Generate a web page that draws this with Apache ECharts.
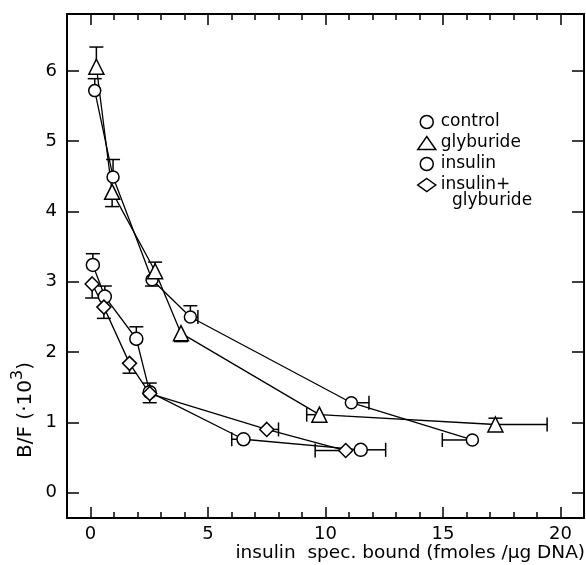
<!DOCTYPE html>
<html>
<head>
<meta charset="utf-8">
<script src="https://cdn.jsdelivr.net/npm/echarts@6/dist/echarts.min.js"></script>
<style>
html, body { margin: 0; padding: 0; background: #fff; }
#chart { width: 586px; height: 565px; }
</style>
</head>
<body>
<div id="chart"></div>
<script>
// x: insulin spec. bound (fmoles/ug DNA), y: B/F (x10^3)
var controlX = [0.18, 0.96, 2.62, 4.25, 11.1, 16.25];
var controlY = [5.72, 4.49, 3.03, 2.50, 1.28, 0.75];
var glybX = [0.25, 0.92, 2.75, 3.85, 9.74, 17.23];
var glybY = [6.06, 4.28, 3.15, 2.27, 1.11, 0.97];
var insulinX = [0.10, 0.61, 1.95, 2.52, 6.51, 11.5];
var insulinY = [3.24, 2.79, 2.19, 1.43, 0.76, 0.61];
var bothX = [0.07, 0.57, 1.66, 2.52, 7.5, 10.86];
var bothY = [2.97, 2.64, 1.84, 1.41, 0.90, 0.60];

// error bars, only the side drawn in the figure: [down, up, left, right]
var controlErr = [[0, 0.17, 0, 0], [0, 0.25, 0, 0], [0.09, 0, 0, 0], [0, 0.16, 0, 0.32], [0, 0, 0, 0.75], [0, 0, 1.28, 0]];
var glybErr = [[0, 0.28, 0, 0], [0.21, 0, 0, 0], [0, 0.13, 0, 0], [0.12, 0, 0, 0], [0, 0, 0.54, 0], [0, 0.09, 0, 2.2]];
var insulinErr = [[0, 0.16, 0, 0], [0, 0.15, 0, 0], [0, 0.17, 0, 0], [0, 0.13, 0, 0], [0, 0, 0.5, 0], [0, 0, 0, 1.06]];
var bothErr = [[0.2, 0, 0, 0], [0.16, 0, 0, 0], [0.14, 0, 0, 0], [0.13, 0, 0, 0], [0, 0, 0, 0.5], [0, 0, 1.3, 0]];

var xMajor = [0, 5, 10, 15, 20];
var xMinor = [1, 2, 3, 4, 6, 7, 8, 9, 11, 12, 13, 14, 16, 17, 18, 19];
var yTicks = [0, 1, 2, 3, 4, 5, 6];

var font = 'DejaVu Sans';

function pts(xs, ys) {
  return xs.map(function (x, i) { return [x, ys[i]]; });
}
function errPts(xs, ys, err) {
  return xs.map(function (x, i) { return [x, ys[i]].concat(err[i]); });
}

function errorBars(params, api) {
  var x = api.value(0), y = api.value(1);
  var dn = api.value(2), up = api.value(3), lf = api.value(4), rt = api.value(5);
  var c = api.coord([x, y]);
  var cap = 7;
  var st = { stroke: '#000', lineWidth: 1.5 };
  var kids = [];
  function bar(p, vertical) {
    kids.push({ type: 'line', shape: { x1: c[0], y1: c[1], x2: p[0], y2: p[1] }, style: st });
    if (vertical) {
      kids.push({ type: 'line', shape: { x1: p[0] - cap, y1: p[1], x2: p[0] + cap, y2: p[1] }, style: st });
    } else {
      kids.push({ type: 'line', shape: { x1: p[0], y1: p[1] - cap, x2: p[0], y2: p[1] + cap }, style: st });
    }
  }
  if (up > 0) bar(api.coord([x, y + up]), true);
  if (dn > 0) bar(api.coord([x, y - dn]), true);
  if (lf > 0) bar(api.coord([x - lf, y]), false);
  if (rt > 0) bar(api.coord([x + rt, y]), false);
  return { type: 'group', children: kids };
}

var markerStyle = { color: '#fff', borderColor: '#000', borderWidth: 1.5 };

function lineSeries(name, data, symbol, size) {
  return {
    name: name, type: 'line', data: data, z: 3,
    symbol: symbol, symbolSize: size,
    itemStyle: markerStyle,
    lineStyle: { color: '#000', width: 1.3 },
    emphasis: { disabled: true }
  };
}
function errSeries(data) {
  return {
    type: 'custom', renderItem: errorBars, data: data, z: 2,
    encode: { x: 0, y: 1 }, silent: true
  };
}

function xAx(pos, ticks, len, showLine, showLabel) {
  return {
    type: 'value', position: pos, min: -1, max: 21,
    axisLine: { show: showLine, onZero: false, lineStyle: { color: '#000', width: 2 } },
    axisTick: { inside: true, length: len, customValues: ticks, lineStyle: { color: '#000', width: 1.5 } },
    axisLabel: { show: showLabel, customValues: xMajor, margin: 7, color: '#000', fontFamily: font, fontSize: 18 },
    splitLine: { show: false }
  };
}
function yAx(pos, showLabel) {
  return {
    type: 'value', position: pos, min: -0.36, max: 6.81,
    axisLine: { show: true, onZero: false, lineStyle: { color: '#000', width: 2 } },
    axisTick: { inside: true, length: 12, customValues: yTicks, lineStyle: { color: '#000', width: 1.5 } },
    axisLabel: { show: showLabel, customValues: yTicks, margin: 10, color: '#000', fontFamily: font, fontSize: 18 },
    splitLine: { show: false }
  };
}

var chart = echarts.init(document.getElementById('chart'));
chart.setOption({
  animation: false,
  backgroundColor: '#fff',
  grid: { left: 67, right: 2, top: 14, bottom: 47 },
  xAxis: [
    xAx('bottom', xMinor, 6, true, true),
    xAx('bottom', xMajor, 11, false, false),
    xAx('top', xMinor, 6, true, false),
    xAx('top', xMajor, 11, false, false)
  ],
  yAxis: [yAx('left', true), yAx('right', false)],
  legend: {
    orient: 'vertical', left: 412, top: 107,
    itemWidth: 18, itemHeight: 13, itemGap: 1,
    textStyle: { fontFamily: font, fontSize: 17, lineHeight: 20, color: '#000' },
    formatter: function (n) { return n === 'insulin+ glyburide' ? 'insulin+' : n; },
    data: [
      { name: 'control', icon: 'circle', itemStyle: markerStyle },
      { name: 'glyburide', icon: 'triangle', itemStyle: markerStyle },
      { name: 'insulin', icon: 'circle', itemStyle: markerStyle },
      { name: 'insulin+ glyburide', icon: 'diamond', itemStyle: markerStyle }
    ]
  },
  graphic: [
    { type: 'text', x: 23, y: 410, rotation: Math.PI / 2,
      style: {
        text: '{a|B/F (·10}{s|3}{a|)}', fill: '#000', align: 'center', verticalAlign: 'middle',
        rich: {
          a: { fontFamily: font, fontSize: 20, fill: '#000', lineHeight: 26, verticalAlign: 'bottom' },
          s: { fontFamily: font, fontSize: 16, fill: '#000', lineHeight: 26, verticalAlign: 'top' }
        }
      } },
    { type: 'text', x: 585, y: 553,
      style: { text: 'insulin  spec. bound (fmoles /µg DNA)', font: '18.5px "DejaVu Sans"', fill: '#000', align: 'right', verticalAlign: 'middle' } },
    { type: 'text', x: 452, y: 201,
      style: { text: 'glyburide', font: '17px "DejaVu Sans"', fill: '#000', align: 'left', verticalAlign: 'middle' } }
  ],
  series: [
    errSeries(errPts(controlX, controlY, controlErr)),
    errSeries(errPts(glybX, glybY, glybErr)),
    errSeries(errPts(insulinX, insulinY, insulinErr)),
    errSeries(errPts(bothX, bothY, bothErr)),
    lineSeries('control', pts(controlX, controlY), 'circle', 12),
    lineSeries('glyburide', pts(glybX, glybY), 'triangle', 15),
    lineSeries('insulin', pts(insulinX, insulinY), 'circle', 13),
    lineSeries('insulin+ glyburide', pts(bothX, bothY), 'diamond', 14)
  ]
});
</script>
</body>
</html>
